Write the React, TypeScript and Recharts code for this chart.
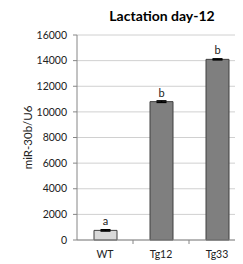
import React from 'react';
import { BarChart, Bar, XAxis, YAxis, CartesianGrid, Cell, LabelList, ErrorBar, Label } from 'recharts';

const categories = ['WT', 'Tg12', 'Tg33'];
const values = [750, 10800, 14100];
const errors = [50, 60, 40];
const letters = ['a', 'b', 'b'];
const yTicks = [0, 2000, 4000, 6000, 8000, 10000, 12000, 14000, 16000];
const fills = ['#d9d9d9', '#7f7f7f', '#7f7f7f'];

const data = categories.map((c, i) => ({ name: c, value: values[i], err: errors[i], letter: letters[i] }));

const font = 'Lato, "Open Sans", sans-serif';

const CatTick = (props: any) => {
  const { x, y, payload } = props;
  const half = payload && payload.offset ? payload.offset : 0;
  const axisY = y - 11;
  return (
    <g>
      <line x1={x + half} x2={x + half} y1={axisY} y2={axisY + 4} stroke="#868686" />
      <text x={x} y={y} dy="0.71em" textAnchor="middle" fontSize={10.5} fill="#222" fontFamily={font}>
        {payload.value}
      </text>
    </g>
  );
};

export default function App() {
  return (
    <div style={{ position: 'relative', width: 235, height: 256, overflow: 'hidden', fontFamily: font }}>
      <div style={{ position: 'absolute', left: 69, width: 170, top: 0, textAlign: 'center', fontWeight: 700, fontSize: 14, color: '#000', lineHeight: '16px' }}>
        Lactation day-12
      </div>
      <BarChart width={245} height={256} data={data} margin={{ top: 27, right: 8, bottom: 4, left: 0 }}>
        <CartesianGrid vertical={false} stroke="#d0d0d0" />
        <XAxis dataKey="name" height={20} axisLine={{ stroke: '#868686' }} tickLine={false} tickSize={4} tickMargin={7} tick={<CatTick />} />
        <YAxis domain={[0, 16000]} ticks={yTicks} width={69} axisLine={{ stroke: '#868686' }} tickLine={{ stroke: '#868686' }} tickSize={4} tickMargin={6} tick={{ fontSize: 10.5, fill: '#222', fontFamily: font }} interval={0}>
          <Label value="miR-30b/U6" angle={-90} position="insideLeft" offset={20} style={{ fontSize: 11.5, fill: '#222', fontFamily: font, textAnchor: 'middle' }} />
        </YAxis>
        <Bar dataKey="value" barSize={23} stroke="#404040" strokeWidth={1} isAnimationActive={false}>
          {data.map((d, i) => (
            <Cell key={d.name} fill={fills[i]} />
          ))}
          <ErrorBar dataKey="err" width={5} stroke="#000" strokeWidth={1.5} direction="y" />
          <LabelList dataKey="letter" position="top" offset={5} style={{ fontSize: 11, fill: '#222', fontFamily: font }} />
        </Bar>
      </BarChart>
    </div>
  );
}
